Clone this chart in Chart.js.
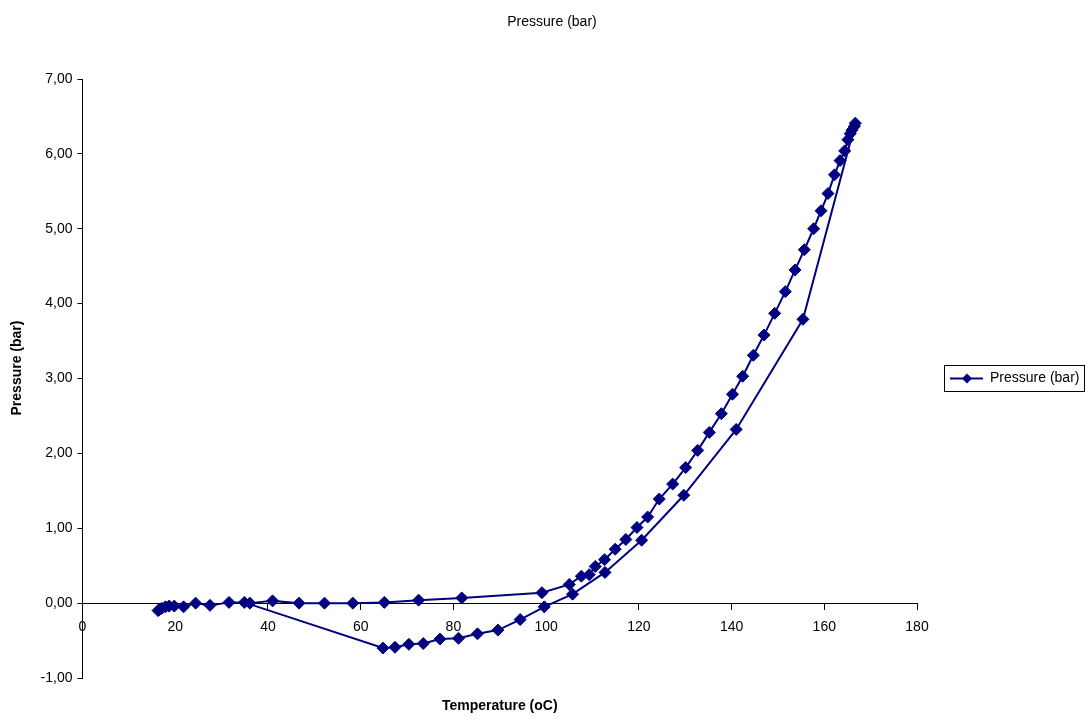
<!DOCTYPE html>
<html>
<head>
<meta charset="utf-8">
<title>Pressure (bar)</title>
<script src="https://cdn.jsdelivr.net/npm/chart.js@4/dist/chart.umd.min.js"></script>
<style>
    html, body { margin: 0; padding: 0; background: #fff; }
    #wrap { width: 1089px; height: 720px; }
</style>
</head>
<body>
<div id="wrap"><canvas id="chart" width="1089" height="720"></canvas></div>
<script>
// heating run from ~36 oC up to ~167 oC, then the cooling run back down
const tempC = [
    36.1, 41.0, 46.7, 52.2, 58.3, 65.1, 72.5, 81.8, 99.1, 105.0,
    107.6, 109.3, 110.6, 112.6, 114.9, 117.2, 119.6, 121.9, 124.4, 127.3,
    130.1, 132.7, 135.2, 137.8, 140.2, 142.4, 144.7, 147.0, 149.3, 151.6,
    153.7, 155.7, 157.7, 159.3, 160.8, 162.2, 163.4, 164.4, 165.1, 165.6,
    166.0, 166.5, 166.7,
    155.4, 141.0, 129.7, 120.6, 112.7, 105.7, 99.6, 94.4, 89.6, 85.2,
    81.1, 77.1, 73.5, 70.4, 67.4, 64.8, 34.9, 31.6, 27.5, 24.4,
    21.8, 19.8, 18.7, 17.9, 17.1, 16.5, 16.3
];
const pressureBar = [
    0.00, 0.03, 0.00, 0.00, 0.00, 0.01, 0.04, 0.07, 0.14, 0.25,
    0.36, 0.38, 0.49, 0.58, 0.72, 0.85, 1.01, 1.15, 1.39, 1.59,
    1.81, 2.04, 2.28, 2.53, 2.79, 3.03, 3.31, 3.58, 3.87, 4.16,
    4.45, 4.72, 5.00, 5.24, 5.47, 5.72, 5.91, 6.04, 6.19, 6.27,
    6.32, 6.37, 6.41,
    3.79, 2.32, 1.44, 0.84, 0.41, 0.12, -0.05, -0.22, -0.36, -0.41,
    -0.47, -0.48, -0.54, -0.55, -0.59, -0.60, 0.01, 0.01, -0.03, 0.00,
    -0.05, -0.04, -0.04, -0.05, -0.07, -0.09, -0.10
];
const xTicks = [0, 20, 40, 60, 80, 100, 120, 140, 160, 180];
const yTicks = [-1, 0, 1, 2, 3, 4, 5, 6, 7];

const seriesName = 'Pressure (bar)';
const navy = '#000080';
const fontFamily = "'Liberation Sans', Arial, sans-serif";

Chart.defaults.font.family = fontFamily;
Chart.defaults.font.size = 14;
Chart.defaults.color = '#000';

const points = tempC.map((t, i) => ({ x: t, y: pressureBar[i] }));

// titles and the boxed legend, placed the way the spreadsheet did
const extrasPlugin = {
    id: 'extras',
    afterDraw(chart) {
        const ctx = chart.ctx;
        const area = chart.chartArea;
        ctx.save();

        ctx.fillStyle = '#000';
        ctx.textAlign = 'center';
        ctx.textBaseline = 'middle';
        ctx.font = '14px ' + fontFamily;
        ctx.fillText(seriesName, 552, 22);

        ctx.font = 'bold 14px ' + fontFamily;
        ctx.fillText('Temperature (oC)', (area.left + area.right) / 2, 706);

        ctx.save();
        ctx.translate(17, 368);
        ctx.rotate(-Math.PI / 2);
        ctx.fillText(seriesName, 0, 0);
        ctx.restore();

        // legend box
        const bx = 944.5, by = 365.5, bw = 140, bh = 26;
        ctx.strokeStyle = '#000';
        ctx.lineWidth = 1;
        ctx.strokeRect(bx, by, bw, bh);

        const ly = by + bh / 2;
        ctx.strokeStyle = navy;
        ctx.lineWidth = 2;
        ctx.beginPath();
        ctx.moveTo(950, ly);
        ctx.lineTo(983, ly);
        ctx.stroke();

        ctx.fillStyle = navy;
        ctx.beginPath();
        ctx.moveTo(967, ly - 5);
        ctx.lineTo(972, ly);
        ctx.lineTo(967, ly + 5);
        ctx.lineTo(962, ly);
        ctx.closePath();
        ctx.fill();

        ctx.fillStyle = '#000';
        ctx.font = '14px ' + fontFamily;
        ctx.textAlign = 'left';
        ctx.fillText(seriesName, 990, ly);

        ctx.restore();
    }
};

const ctx = document.getElementById('chart').getContext('2d');
new Chart(ctx, {
    type: 'scatter',
    data: {
        datasets: [{
            label: seriesName,
            data: points,
            showLine: true,
            borderColor: navy,
            borderWidth: 2,
            backgroundColor: navy,
            pointStyle: 'rectRot',
            pointRadius: 6,
            pointBorderWidth: 1,
            pointBorderColor: navy,
            pointBackgroundColor: navy,
            tension: 0
        }]
    },
    options: {
        responsive: false,
        animation: false,
        layout: {
            padding: { top: 79, right: 172, bottom: 42, left: 0 }
        },
        plugins: {
            legend: { display: false },
            tooltip: { enabled: false },
            title: { display: false }
        },
        scales: {
            x: {
                type: 'linear',
                position: { y: 0 },
                min: 0,
                max: 180,
                afterBuildTicks(scale) {
                    scale.ticks = xTicks.map(v => ({ value: v }));
                },
                ticks: { padding: 10, maxRotation: 0, autoSkip: false },
                grid: { drawOnChartArea: false, color: '#000', tickLength: 6 },
                border: { display: true, color: '#000', width: 1 }
            },
            y: {
                type: 'linear',
                position: 'left',
                min: -1,
                max: 7,
                afterBuildTicks(scale) {
                    scale.ticks = yTicks.map(v => ({ value: v }));
                },
                afterFit(scale) {
                    scale.width = 82.5;
                },
                ticks: {
                    padding: 5,
                    callback: v => v.toFixed(2).replace('.', ',')
                },
                grid: { drawOnChartArea: false, color: '#000', tickLength: 5 },
                border: { display: true, color: '#000', width: 1 }
            }
        }
    },
    plugins: [extrasPlugin]
});
</script>
</body>
</html>
